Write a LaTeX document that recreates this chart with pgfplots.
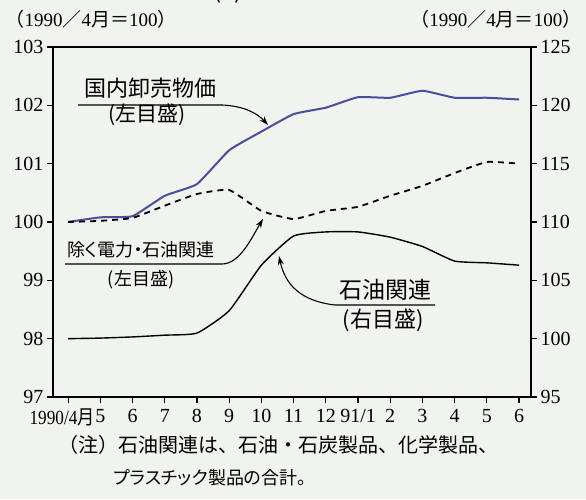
\documentclass[border=0pt]{standalone}
\usepackage{fontspec}
\setmainfont{Liberation Serif}
\newfontfamily\cjk{Noto Sans CJK JP}
\newfontfamily\cjkp[RawFeature=+palt]{Noto Sans CJK JP}
\usepackage{pgfplots}
\usepackage{pgfplotstable}
\pgfplotsset{compat=1.18}
\usetikzlibrary{arrows.meta}

\definecolor{bg}{RGB}{241,243,238}
\definecolor{wpi}{RGB}{72,78,160}

% month index, domestic WPI (left), excl. electricity & oil (left), oil-related (right)
\pgfplotstableread{
m wpi ex oil
0 100.0 100.0 100.0
1 100.08 100.02 100.05
2 100.1 100.07 100.15
3 100.45 100.28 100.3
4 100.65 100.48 100.48
5 101.23 100.55 102.4
6 101.55 100.19 106.3
7 101.85 100.05 108.8
8 101.96 100.19 109.15
9 102.14 100.26 109.15
10 102.13 100.45 108.7
11 102.25 100.62 107.9
12 102.13 100.84 106.65
13 102.13 101.03 106.5
14 102.1 101.0 106.3
}\data

\newcommand\tfont{\fontsize{20}{20}\selectfont}

\begin{document}
\begin{tikzpicture}[x=1pt,y=1pt]
\fill[bg] (0,0) rectangle (586,499);

\pgfplotsset{every axis/.append style={
  at={(53pt,102pt)}, anchor=south west, scale only axis,
  width=478pt, height=350pt, xmin=-0.47, xmax=14.37,
  tick align=outside, major tick length=6pt,
  tick style={black, line width=1.2pt},
  /pgf/number format/assume math mode=true,
  tick label style={font=\tfont},
}}

\begin{axis}[
  ymin=97, ymax=103, ytick={97,...,103},
  ytick pos=left, xtick pos=bottom,
  axis line style={line width=1.6pt},
  xtick={0,...,14},
  xticklabels={\hspace*{-12pt}\scalebox{0.86}[1]{1990/4{\cjk 月}},5,6,7,8,9,10,11,12,91/1,2,3,4,5,6},
  xticklabel style={inner sep=2pt, yshift=-4pt},
]
\addplot[wpi, line width=2pt, smooth, tension=0.25] table[x=m,y=wpi]{\data};
\addplot[black, line width=1.8pt, dash pattern=on 6pt off 5pt, smooth, tension=0.25] table[x=m,y=ex]{\data};
\end{axis}

\begin{axis}[
  ymin=95, ymax=125, ytick={95,100,...,125},
  axis y line*=right, axis x line=none,
  axis line style={line width=1.6pt},
]
\addplot[black, line width=1.4pt, smooth, tension=0.3] table[x=m,y=oil]{\data};
\end{axis}

% annotations
\begin{scope}[line width=1.1pt, >={Stealth[length=9pt,width=6pt]}]
\node[font=\cjk\fontsize{22}{22}\selectfont] at (150,411) {国内卸売物価};
\node[font=\cjk\fontsize{21}{21}\selectfont] at (147,384) {(左目盛)};
\draw[->] (78,394) -- (222,394) .. controls (245,393) and (258,385) .. (268,374);

\node[font=\cjkp\fontsize{18}{18}\selectfont] at (141,249) {除く電力・石油関連};
\node[font=\cjk\fontsize{18}{18}\selectfont] at (141,219) {(左目盛)};
\draw[->] (65,235) -- (222,235) .. controls (240,235) and (252,262) .. (263,280);

\node[font=\cjk\fontsize{23}{23}\selectfont] at (385,209) {石油関連};
\node[font=\cjk\fontsize{22}{22}\selectfont] at (383,179) {(右目盛)};
\draw[->] (435,194) -- (335,194) .. controls (300,198) and (285,215) .. (279,243);
\end{scope}

% headers and note
\node[anchor=base, font=\cjk\fontsize{24}{24}\selectfont] at (303,500) {(1)\ 国内卸売物価};
\node[anchor=west, font=\fontsize{19}{19}\selectfont] at (2,480) {{\cjk （}1990{\cjk ／}4{\cjk 月＝}100{\cjk ）}};
\node[anchor=east, font=\fontsize{19}{19}\selectfont] at (585,480) {{\cjk （}1990{\cjk ／}4{\cjk 月＝}100{\cjk ）}};
\node[anchor=west, font=\cjk\fontsize{20}{20}\selectfont] at (55,54) {（注）石油関連は、石油・石炭製品、化学製品、};
\node[anchor=west, font=\cjkp\fontsize{18}{18}\selectfont] at (110,21) {プラスチック製品の合計。};

\pgfresetboundingbox
\path[use as bounding box] (0,0) rectangle (586,499);
\end{tikzpicture}
\end{document}
